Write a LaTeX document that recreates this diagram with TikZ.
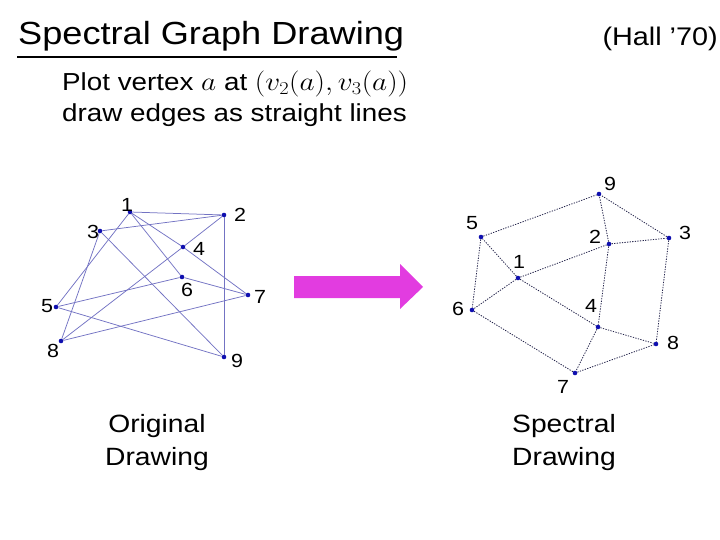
\documentclass[tikz,border=0pt]{standalone}
\usepackage{fontspec}
\setmainfont[FakeStretch=1.13]{Liberation Sans}
\usepackage{graphicx}
\definecolor{vdot}{RGB}{15,15,175}
\definecolor{ledge}{RGB}{115,115,195}
\definecolor{redge}{RGB}{35,35,75}
\definecolor{arrowmag}{RGB}{226,60,224}
\tikzset{
  vtx/.style={circle,fill=vdot,inner sep=0pt,minimum size=4.6pt},
  lab/.style={font=\fontsize{19}{22}\selectfont,inner sep=0pt},
  ledg/.style={draw=ledge,line width=0.75pt},
  redg/.style={draw=redge,line width=0.8pt,dash pattern=on 1.3pt off 1.3pt},
  bigtext/.style={font=\fontsize{24.6}{30}\selectfont,inner sep=0pt},
}
\begin{document}
\begin{tikzpicture}[x=1pt,y=-1pt]
\useasboundingbox (0,0) rectangle (720,540);
% title
\node[anchor=base west,inner sep=0pt,font=\fontsize{32}{38}\selectfont] (title) at (18,45) {Spectral Graph Drawing};
\draw[line width=2pt] (17,57) -- (397,57);
\node[anchor=base east,inner sep=0pt,font=\fontsize{25.5}{30}\selectfont] (hall) at (718,46) {(Hall '70)};
\node[bigtext,anchor=base west] (l1) at (62,91) {Plot vertex \scalebox{1.18}[1.05]{$a$} at \scalebox{1.18}[1.05]{$(v_2(a),v_3(a))$}};
\node[bigtext,anchor=base west] (l2) at (62,122) {draw edges as straight lines};
% left graph
\node[vtx] (a1) at (130,212) {};
\node[vtx] (a2) at (224,215) {};
\node[vtx] (a3) at (100,231) {};
\node[vtx] (a4) at (183,247) {};
\node[vtx] (a5) at (56,307) {};
\node[vtx] (a6) at (182,277) {};
\node[vtx] (a7) at (248,295) {};
\node[vtx] (a8) at (61,341) {};
\node[vtx] (a9) at (224,357) {};
\foreach \u/\v in {1/2,1/4,4/7,1/5,1/6,2/3,2/4,4/8,2/9,3/8,3/9,5/6,6/7,5/9,7/8}
  \draw[ledg] (a\u) -- (a\v);
\node[lab] (la1) at (127,205) {1};
\node[lab] (la2) at (240,215) {2};
\node[lab] (la3) at (93,232) {3};
\node[lab] (la4) at (199,249) {4};
\node[lab] (la5) at (47,306) {5};
\node[lab] (la6) at (187,290) {6};
\node[lab] (la7) at (260,297) {7};
\node[lab] (la8) at (53,351) {8};
\node[lab] (la9) at (237,361) {9};
% arrow
\fill[arrowmag] (294,276) -- (400,276) -- (400,264) -- (423,287) -- (400,309) -- (400,298) -- (294,298) -- cycle;
% right graph
\node[vtx] (b1) at (518,278) {};
\node[vtx] (b2) at (609,244) {};
\node[vtx] (b3) at (669,238) {};
\node[vtx] (b4) at (598,327) {};
\node[vtx] (b5) at (481,237) {};
\node[vtx] (b6) at (472,310) {};
\node[vtx] (b7) at (575,373) {};
\node[vtx] (b8) at (656,344) {};
\node[vtx] (b9) at (599,194) {};
\foreach \u/\v in {1/2,1/4,4/7,1/5,1/6,2/3,2/4,4/8,2/9,3/8,3/9,5/6,6/7,5/9,7/8}
  \draw[redg] (b\u) -- (b\v);
\node[lab] (lb1) at (519,262) {1};
\node[lab] (lb2) at (595,237) {2};
\node[lab] (lb3) at (685,233) {3};
\node[lab] (lb4) at (591,306) {4};
\node[lab] (lb5) at (472,223) {5};
\node[lab] (lb6) at (458,309) {6};
\node[lab] (lb7) at (563,387) {7};
\node[lab] (lb8) at (673,343) {8};
\node[lab] (lb9) at (610,184) {9};
% captions
\node[bigtext,align=center,font=\fontsize{25}{33}\selectfont] (cap1) at (157,443) {Original\\Drawing};
\node[bigtext,align=center,font=\fontsize{25}{33}\selectfont] (cap2) at (564,443) {Spectral\\Drawing};
\end{tikzpicture}
\end{document}
